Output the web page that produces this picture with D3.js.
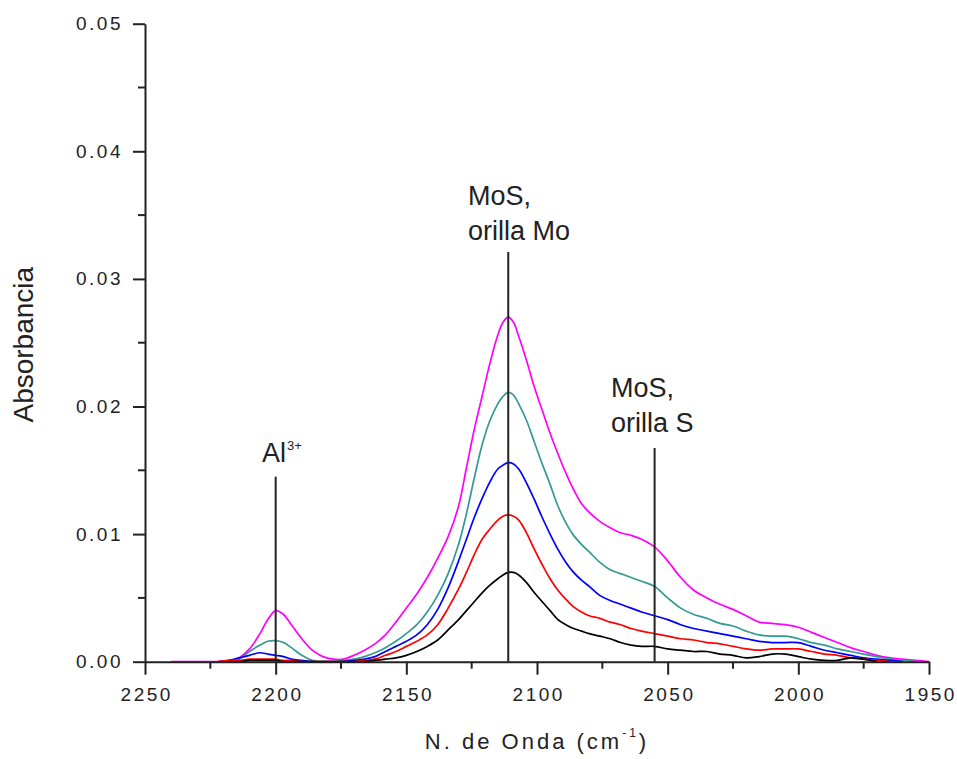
<!DOCTYPE html>
<html>
<head>
<meta charset="utf-8">
<script src="https://cdn.jsdelivr.net/npm/d3@7"></script>
<style>
  html, body { margin: 0; padding: 0; background: #fff; }
  svg { display: block; }
  text { font-family: "Liberation Sans", Arial, sans-serif; fill: #222; }
</style>
</head>
<body>
<svg id="chart" width="957" height="759"></svg>
<script>
// Wavenumber grid (cm-1) shared by every spectrum
const wavenumbers = [2240, 2230, 2222, 2218, 2214, 2210, 2206, 2203, 2200, 2197, 2194, 2190, 2186, 2182, 2178, 2174, 2170, 2166, 2162, 2158, 2154, 2150, 2146, 2142, 2138, 2134, 2130, 2127, 2124, 2121, 2118, 2115, 2113, 2111, 2109, 2107, 2104, 2101, 2098, 2095, 2092, 2089, 2086, 2083, 2080, 2076, 2072, 2068, 2064, 2060, 2055, 2050, 2045, 2040, 2035, 2030, 2025, 2020, 2015, 2010, 2005, 2000, 1995, 1990, 1985, 1980, 1975, 1970, 1965, 1960, 1955, 1950];

// Absorbance of each spectrum on that grid (null = not recorded)
const absMagenta = [0, 0, 0, 0, 0.0003, 0.0010, 0.0022, 0.0033, 0.0040, 0.0037, 0.0029, 0.0018, 0.0009, 0.0004, 0.0002, 0.0002, 0.0005, 0.0009, 0.0014, 0.0021, 0.0031, 0.0042, 0.0053, 0.0066, 0.0081, 0.0098, 0.0122, 0.0152, 0.0182, 0.0208, 0.0234, 0.0256, 0.0266, 0.0270, 0.0266, 0.0255, 0.0236, 0.0215, 0.0197, 0.0179, 0.0163, 0.0148, 0.0135, 0.0124, 0.0117, 0.0110, 0.0105, 0.0101, 0.0099, 0.0096, 0.0090, 0.0079, 0.0066, 0.0056, 0.0050, 0.0045, 0.0041, 0.0036, 0.0031, 0.0030, 0.0029, 0.0027, 0.0023, 0.0019, 0.0015, 0.0011, 0.0008, 0.0005, 0.0003, 0.0002, 0.0001, 0];
const absTeal = [null, null, null, 0, 0.0002, 0.0008, 0.0013, 0.0016, 0.00165, 0.0015, 0.0011, 0.0005, 0.0001, 0, 0, 0.0001, 0.0002, 0.0004, 0.0007, 0.0011, 0.0016, 0.0022, 0.0029, 0.0039, 0.0052, 0.0069, 0.0092, 0.0116, 0.0144, 0.0170, 0.0189, 0.0202, 0.0208, 0.0211, 0.0209, 0.0202, 0.0189, 0.0172, 0.0155, 0.0139, 0.0122, 0.0109, 0.0099, 0.0092, 0.0086, 0.0078, 0.0072, 0.0069, 0.0066, 0.0063, 0.0059, 0.0050, 0.0042, 0.0037, 0.0034, 0.0030, 0.0028, 0.0024, 0.0021, 0.0020, 0.0020, 0.0018, 0.0015, 0.0013, 0.0010, 0.0008, 0.0006, 0.0004, 0.0002, 0.0001, 0, null];
const absBlue = [null, null, 0, 0.0001, 0.0003, 0.0005, 0.0007, 0.0006, 0.0005, 0.0004, 0.0002, 0.0001, 0, 0, 0, 0, 0.0001, 0.0002, 0.0004, 0.0008, 0.0012, 0.0016, 0.0021, 0.0029, 0.0041, 0.0058, 0.0079, 0.0096, 0.0113, 0.0128, 0.0141, 0.0151, 0.0154, 0.0156, 0.0155, 0.0151, 0.0140, 0.0127, 0.0113, 0.0100, 0.0088, 0.0078, 0.0070, 0.0064, 0.0059, 0.0052, 0.0048, 0.0045, 0.0042, 0.0039, 0.0036, 0.0033, 0.0029, 0.0026, 0.0024, 0.0022, 0.0020, 0.0018, 0.0016, 0.0015, 0.0015, 0.0015, 0.0012, 0.0009, 0.0007, 0.0005, 0.0003, 0.0002, 0.0001, 0, null, null];
const absRed = [null, null, 0, 0.0001, 0.0001, 0.0002, 0.0002, 0.0002, 0.0002, 0.0001, 0.0001, 0, 0, 0, 0, 0, 0, 0.0001, 0.0002, 0.0005, 0.0008, 0.0012, 0.0016, 0.0021, 0.0029, 0.0042, 0.0057, 0.0070, 0.0084, 0.0096, 0.0104, 0.0111, 0.0114, 0.0115, 0.0114, 0.0111, 0.0101, 0.0088, 0.0076, 0.0065, 0.0056, 0.0049, 0.0043, 0.0039, 0.0036, 0.0034, 0.0031, 0.0029, 0.0026, 0.0024, 0.0022, 0.0020, 0.0018, 0.0017, 0.0015, 0.0014, 0.0012, 0.0010, 0.0009, 0.0010, 0.0010, 0.0010, 0.0008, 0.0006, 0.0005, 0.0003, 0.0002, 0.0001, 0, null, null, null];
const absBlack = [null, null, null, 0, 0, 0.0001, 0.0001, 0.0001, 0.0001, 0, 0, 0, 0, 0, 0, 0, 0, 0, 0.0001, 0.0002, 0.0003, 0.0005, 0.0008, 0.0012, 0.0017, 0.0025, 0.0033, 0.0040, 0.0047, 0.0054, 0.0060, 0.0065, 0.0068, 0.0070, 0.0070, 0.0068, 0.0062, 0.0054, 0.0047, 0.0040, 0.0033, 0.0029, 0.0026, 0.0024, 0.0022, 0.0020, 0.0018, 0.0015, 0.0013, 0.0012, 0.0012, 0.0010, 0.0009, 0.0008, 0.0008, 0.0006, 0.0005, 0.0003, 0.0004, 0.0006, 0.0006, 0.0004, 0.0002, 0.0001, 0.0001, 0.0003, 0.0002, 0, null, null, null, null];

// Axis ticks
const xMajorTicks = [2250, 2200, 2150, 2100, 2050, 2000, 1950];
const xMinorTicks = [2225, 2175, 2125, 2075, 2025, 1975];
const yMajorTicks = [0, 0.01, 0.02, 0.03, 0.04, 0.05];
const yMinorTicks = [0.005, 0.015, 0.025, 0.035, 0.045];

// Band assignments: position, top of marker line, label lines
const bandNames = ["Al", "MoS, orilla Mo", "MoS, orilla S"];
const bandWavenumbers = [2200, 2111, 2055];
const bandLineTops = [0.0145, 0.0321, 0.01675];

const svg = d3.select("#chart");

const x = d3.scaleLinear().domain([2250, 1950]).range([145, 929]);
const y = d3.scaleLinear().domain([0, 0.05]).range([661.7, 23.7]);

// Spectra, drawn so the black trace ends up on top
const spectra = [
  { values: absMagenta, color: "#ff00ff" },
  { values: absTeal, color: "#339a94" },
  { values: absBlue, color: "#0000ff" },
  { values: absRed, color: "#ff0000" },
  { values: absBlack, color: "#000000" }
];

const line = d3.line()
  .defined(d => d.v !== null)
  .x(d => x(d.w))
  .y(d => y(Math.max(0, d.v)))
  .curve(d3.curveCatmullRom.alpha(0.5));

svg.append("g").selectAll("path")
  .data(spectra)
  .join("path")
  .attr("fill", "none")
  .attr("stroke", d => d.color)
  .attr("stroke-width", 1.7)
  .attr("stroke-linejoin", "round")
  .attr("d", d => line(wavenumbers.map((w, i) => ({ w, v: d.values[i] }))));

// Band marker lines
svg.append("g").selectAll("line")
  .data(bandWavenumbers)
  .join("line")
  .attr("x1", d => x(d)).attr("x2", d => x(d))
  .attr("y1", (d, i) => y(bandLineTops[i]))
  .attr("y2", y(0))
  .attr("stroke", "#222")
  .attr("stroke-width", 2);

// X axis
const xAxis = svg.append("g").attr("transform", `translate(0,${y(0)})`);
xAxis.call(d3.axisBottom(x).tickValues(xMajorTicks).tickSize(13).tickSizeOuter(0).tickPadding(13).tickFormat(d3.format("d")));
xAxis.append("g").selectAll("line")
  .data(xMinorTicks).join("line")
  .attr("x1", d => x(d)).attr("x2", d => x(d))
  .attr("y1", 0).attr("y2", 7)
  .attr("stroke", "#222").attr("stroke-width", 2);

// Y axis
const yAxis = svg.append("g").attr("transform", `translate(${x(2250)},0)`);
yAxis.call(d3.axisLeft(y).tickValues(yMajorTicks).tickSize(12).tickSizeOuter(0).tickPadding(10).tickFormat(d3.format(".2f")));
yAxis.append("g").selectAll("line")
  .data(yMinorTicks).join("line")
  .attr("y1", d => y(d)).attr("y2", d => y(d))
  .attr("x1", 0).attr("x2", -7)
  .attr("stroke", "#222").attr("stroke-width", 2);

[xAxis, yAxis].forEach(g => {
  g.select(".domain").attr("stroke", "#222").attr("stroke-width", 2);
  g.selectAll(".tick line").attr("stroke", "#222").attr("stroke-width", 2);
  g.selectAll(".tick text")
    .attr("font-family", "Liberation Sans, Arial, sans-serif")
    .attr("font-size", 19)
    .attr("letter-spacing", "2.5px")
    .attr("fill", "#2a2a3a");
});
xAxis.selectAll(".tick text").attr("dy", "0.71em").attr("dx", "1.2px");

// Axis titles
const xTitle = svg.append("text")
  .attr("x", 537).attr("y", 749)
  .attr("text-anchor", "middle")
  .attr("font-size", 22)
  .attr("letter-spacing", "3px");
xTitle.append("tspan").text("N. de Onda (cm");
xTitle.append("tspan").attr("font-size", 12).attr("dy", -12).text("-1");
xTitle.append("tspan").attr("dy", 12).text(")");

svg.append("text")
  .attr("transform", `translate(33,${(y(0) + y(0.05)) / 2 + 2}) rotate(-90)`)
  .attr("text-anchor", "middle")
  .attr("font-size", 28)
  .text("Absorbancia");

// Band labels
const al = svg.append("text")
  .attr("x", x(2205.2)).attr("y", y(0.01565))
  .attr("font-size", 27);
al.append("tspan").text(bandNames[0]);
al.append("tspan").attr("font-size", 13).attr("dy", -12).attr("dx", 1).text("3+");

const labelMo = bandNames[1].split(" ");
const mo = svg.append("text").attr("font-size", 27);
mo.append("tspan").attr("x", x(2126.4)).attr("y", y(0.03579)).text(labelMo[0]);
mo.append("tspan").attr("x", x(2126.4)).attr("y", y(0.03304)).text(labelMo.slice(1).join(" "));

const labelS = bandNames[2].split(" ");
const s = svg.append("text").attr("font-size", 27);
s.append("tspan").attr("x", x(2071.7)).attr("y", y(0.02077)).text(labelS[0]);
s.append("tspan").attr("x", x(2071.7)).attr("y", y(0.01803)).text(labelS.slice(1).join(" "));
</script>
</body>
</html>
